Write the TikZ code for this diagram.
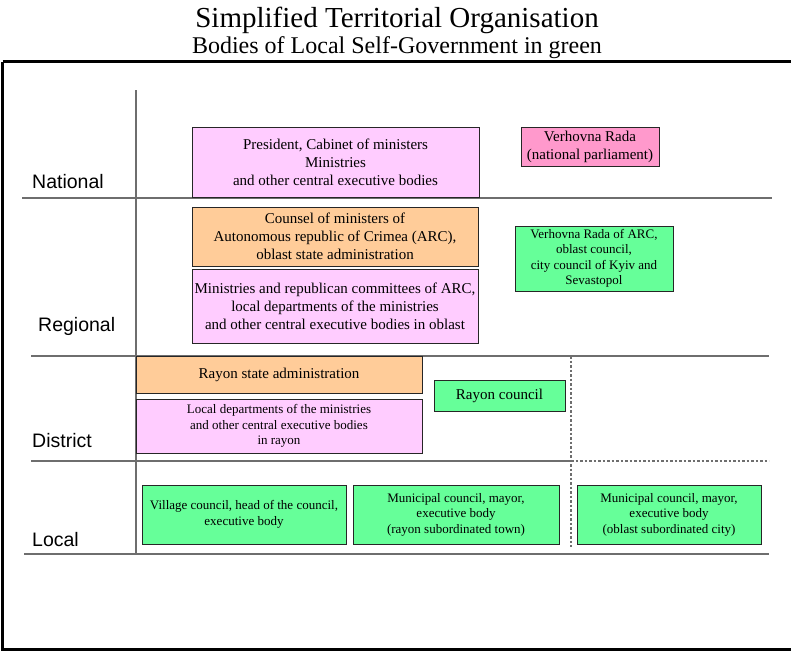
\documentclass[tikz,border=0pt]{standalone}
\usepackage{fontspec}
\setmainfont{Liberation Serif}
\setsansfont{Liberation Sans}
\definecolor{pinkc}{HTML}{FFCCFF}
\definecolor{orangec}{HTML}{FFCC99}
\definecolor{radac}{HTML}{FF99CC}
\definecolor{greenc}{HTML}{66FF99}
\definecolor{rulec}{HTML}{6E6E6E}
\begin{document}
\begin{tikzpicture}[x=1pt,y=-1pt,
  box/.style={draw=black!85, line width=0.8pt, inner sep=0pt, align=center},
  big/.style={font=\fontsize{15}{18}\selectfont},
  small/.style={font=\fontsize{13}{15.5}\selectfont},
  lvl/.style={anchor=base west, inner sep=0pt, font=\sffamily\fontsize{19.5}{22}\selectfont},
  rule/.style={draw=rulec, line width=1.3pt},
  dashrule/.style={draw=rulec, line width=1.1pt, dash pattern=on 2.5pt off 2pt}]
\useasboundingbox (0,0) rectangle (791,651);
% title
\node[anchor=base, inner sep=0pt, font=\fontsize{29}{32}\selectfont] (title) at (397,27) {Simplified Territorial Organisation};
\node[anchor=base, inner sep=0pt, font=\fontsize{24}{27}\selectfont] (subtitle) at (397,53) {Bodies of Local Self-Government in green};
% frame
\draw[black, line width=2.5pt] (2.5,61.5) -- (2.5,649.5) -- (800,649.5);
\draw[black, line width=2.5pt] (2.5,61.5) -- (800,61.5);
% grid coordinates
\coordinate (vtop) at (136,90);
\coordinate (vbot) at (136,554);
\coordinate (n1) at (22,198);   \coordinate (n2) at (772,198);
\coordinate (r1) at (31,356);   \coordinate (r2) at (769,356);
\coordinate (d1) at (31,461);   \coordinate (dm) at (571,461); \coordinate (d2) at (769,461);
\coordinate (b1) at (24,554);   \coordinate (b2) at (769,554);
\coordinate (dvt) at (571,356); \coordinate (dvb) at (571,547);
\draw[rule] (vtop) -- (vbot);
\draw[rule] (n1) -- (n2);
\draw[rule] (r1) -- (r2);
\draw[rule] (d1) -- (dm);
\draw[dashrule] (dm) -- (d2);
\draw[rule] (b1) -- (b2);
\draw[dashrule] (dvt) -- (dvb);
% level labels
\node[lvl] (lnat) at (32,188) {National};
\node[lvl] (lreg) at (38,331) {Regional};
\node[lvl] (ldis) at (32,447) {District};
\node[lvl] (lloc) at (32,546) {Local};
% boxes
\node[box, big, fill=pinkc, minimum width=287pt, minimum height=70pt] (pres) at (335.5,162)
  {President, Cabinet of ministers\\Ministries\\and other central executive bodies};
\node[box, big, fill=radac, minimum width=138pt, minimum height=39pt] (rada) at (590,146.5)
  {Verhovna Rada\\(national parliament)};
\node[box, big, fill=orangec, minimum width=286pt, minimum height=59pt] (counsel) at (335,236.5)
  {Counsel of ministers of\\Autonomous republic of Crimea (ARC),\\oblast state administration};
\node[box, big, fill=pinkc, minimum width=286pt, minimum height=74pt] (minarc) at (335,306)
  {Ministries and republican committees of ARC,\\local departments of the ministries\\and other central executive bodies in oblast};
\node[box, small, fill=greenc, minimum width=158pt, minimum height=65pt] (arccouncil) at (594,258.5)
  {Verhovna Rada of ARC,\\oblast council,\\city council of Kyiv and\\Sevastopol};
\node[box, big, fill=orangec, minimum width=286pt, minimum height=37pt] (rsa) at (279,374.5)
  {Rayon state administration};
\node[box, small, fill=pinkc, minimum width=286pt, minimum height=54pt] (localdep) at (279,426)
  {Local departments of the ministries\\and other central executive bodies\\in rayon};
\node[box, big, fill=greenc, minimum width=131pt, minimum height=31pt] (rcouncil) at (499.5,395.5)
  {Rayon council};
\node[box, small, fill=greenc, minimum width=204pt, minimum height=59pt] (village) at (244,514.5)
  {Village council, head of the council,\\executive body};
\node[box, small, fill=greenc, minimum width=206pt, minimum height=59pt] (muni1) at (456,514.5)
  {Municipal council, mayor,\\executive body\\(rayon subordinated town)};
\node[box, small, fill=greenc, minimum width=184pt, minimum height=59pt] (muni2) at (669,514.5)
  {Municipal council, mayor,\\executive body\\(oblast subordinated city)};
\end{tikzpicture}
\end{document}
